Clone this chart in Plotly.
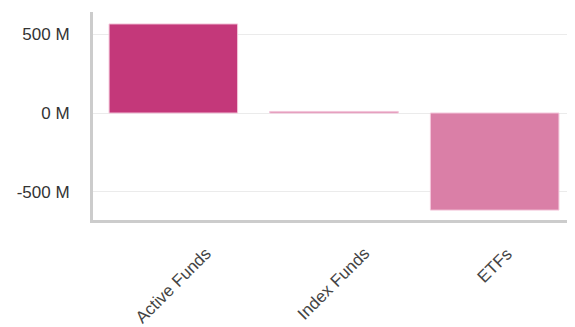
import plotly.graph_objects as go

categories = ["Active Funds", "Index Funds", "ETFs"]
flows = [567e6, 10e6, -618e6]
bar_colors = ["#C4387A", "#DA7FA7", "#DA7FA7"]

tick_vals = [-500e6, 0, 500e6]
tick_text = ["-500 M", "0 M", "500 M"]

fig = go.Figure()
fig.add_trace(
    go.Bar(
        x=categories,
        y=flows,
        marker=dict(color=bar_colors, line=dict(color="#F3C6DA", width=1)),
        width=0.8,
    )
)

# rotated category labels, centred under each bar
for cat in categories:
    fig.add_annotation(
        x=cat,
        y=0,
        xref="x",
        yref="paper",
        text=cat,
        textangle=-45,
        showarrow=False,
        xanchor="center",
        yanchor="top",
        yshift=-21,
        font=dict(size=17, color="#444444"),
    )

# page body adds an 8px offset, so the figure is a bit smaller than the window
fig.update_layout(
    width=567,
    height=319,
    margin=dict(l=85, r=0, t=4, b=107),
    plot_bgcolor="white",
    paper_bgcolor="white",
    showlegend=False,
    font=dict(family="Liberation Sans, Arial, sans-serif", color="#333333"),
)
fig.update_xaxes(
    showline=True,
    linecolor="#CCCCCC",
    linewidth=3,
    showgrid=False,
    showticklabels=False,
    automargin=False,
)
fig.update_yaxes(
    range=[-681e6, 643e6],
    tickvals=tick_vals,
    ticktext=tick_text,
    showline=True,
    linecolor="#CCCCCC",
    linewidth=3,
    showgrid=True,
    gridcolor="#EBEBEB",
    gridwidth=1,
    zeroline=False,
    tickfont=dict(size=17, color="#333333"),
    ticklabelstandoff=17,
    automargin=False,
)

fig.write_html("out.html")
